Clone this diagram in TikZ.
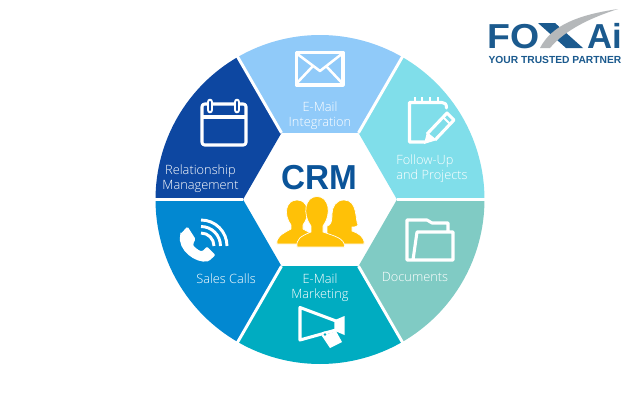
\documentclass[tikz,border=0pt]{standalone}
\usepackage{fontspec}
\setmainfont{Open Sans Light}
\newfontfamily\logofont{Liberation Sans}
\definecolor{cTop}{HTML}{90CAF9}
\definecolor{cUR}{HTML}{80DEEA}
\definecolor{cLR}{HTML}{80CBC4}
\definecolor{cBot}{HTML}{00ACC1}
\definecolor{cLL}{HTML}{0288D1}
\definecolor{cUL}{HTML}{0D47A1}
\definecolor{cCRM}{HTML}{0B5499}
\definecolor{cAmber}{HTML}{FFC107}
\definecolor{cLogo}{HTML}{1B5A8E}
\definecolor{cSwoosh}{HTML}{B5B8BA}
\newcommand{\sector}[2]{\fill[#2] (#1:77) -- (#1:164.5) arc[start angle=#1,delta angle=60,radius=164.5] -- (#1+60:77) -- cycle;}
\tikzset{
  lbl/.style={text=white,font=\fontsize{9.6pt}{11.3pt}\selectfont,align=center,inner sep=0pt},
  ico/.style={draw=white,line width=2.3pt,line join=round},
  gap/.style={draw=white,line width=2.2pt},
  person/.style={fill=cAmber,draw=white,line width=.5pt},
}
\begin{document}
\begin{tikzpicture}[x=.75pt,y=-.75pt]
\useasboundingbox (0,0) rectangle (640,400);
\fill[white] (0,0) rectangle (640,400);
\begin{scope}[shift={(320,199.5)}]
\sector{240}{cTop}
\sector{300}{cUR}
\sector{0}{cLR}
\sector{60}{cBot}
\sector{120}{cLL}
\sector{180}{cUL}
\foreach \a in {0,60,...,300}{\draw[gap] (\a:77) -- (\a:168);}
\end{scope}
% envelope
\draw[ico] (296.5,52.5) rectangle (343,85);
\draw[ico,line width=1.9pt] (296,53) -- (320,71) -- (343,53);
\draw[ico,line width=1.9pt] (296,84) -- (313,66);
\draw[ico,line width=1.9pt] (343,84) -- (326,66);
% calendar
\draw[ico,rounded corners=2pt] (202,104) rectangle (246,145);
\draw[ico] (202,117) -- (246,117);
\foreach \x in {210,237}{
  \draw[white,line width=5pt,line cap=round] (\x,102) -- (\x,110);
  \draw[cUL,line width=1.6pt,line cap=round] (\x,102) -- (\x,110);
}
% notepad
\draw[ico,line cap=round] (446.5,108) .. controls (446.5,104) and (445,102.5) .. (442,102.5) -- (409.5,102.5) -- (409.5,142) -- (425,142);
\foreach \x in {415,422,430,438}{\draw[white,line width=2pt] (\x,97) -- (\x,103);}
\fill[white] (424,144) -- (427,132) -- (437,140) -- cycle;
\draw[ico] (427,134) -- (447,113) -- (454,120) -- (435,140);
\draw[white,line width=1.5pt] (443,117) -- (450,124);
% folder
\draw[ico] (448,231) -- (448,223) -- (432,223) -- (427,220) -- (407,220) -- (407,260) -- (453,260) -- (453,232) -- (417,232) -- (413,260);
% megaphone
\draw[ico] (300,307.5) -- (336,321) -- (336,330) -- (300,340) -- cycle;
\fill[white] (335,320) -- (344.5,316) -- (344.5,335) -- (335,331) -- cycle;
\fill[white] (322,336) -- (336,331) -- (342,342) -- (330,348) -- cycle;
\fill[white] (325,334.5) circle (3.2);
\fill[cBot] (325,334.5) circle (1.3);
% phone
\fill[white,rounded corners=1pt] (180.5,234) -- (187.5,226.5) -- (195.5,239) -- (193,244)
  .. controls (194,247) and (198,250) .. (202,251.5) -- (207,246.5) -- (215.5,255) -- (209,261)
  .. controls (196,264) and (177,250) .. (180.5,234) -- cycle;
\foreach \r in {26,19.5,13}{\draw[white,line width=2.2pt] (201,246) ++(270:\r) arc[start angle=270,end angle=360,radius=\r];}
% labels
\node[lbl] (ltop) at (320,115.5) {E-Mail\\Integration};
\node[lbl,align=left] (lur) at (432,169) {Follow-Up\\and Projects};
\node[lbl] (llr) at (415,277) {Documents};
\node[lbl] (lbot) at (320,288) {E-Mail\\Marketing};
\node[lbl] (lll) at (226,279) {Sales Calls};
\node[lbl] (lul) at (200.5,179) {Relationship\\Management};
% CRM
\node[text=cCRM,font=\logofont\fontsize{26pt}{28pt}\selectfont\bfseries,inner sep=0pt,xscale=.96] (crm) at (319,177.5) {CRM};
% people
\path[person] (344,200) .. controls (336,200) and (332,207) .. (332,214) .. controls (332,222) and (331,225) .. (327,226) -- (327,244) -- (364,244) .. controls (365,237) and (358,233) .. (352,231) -- (352,227) .. controls (356,227) and (358,226) .. (358,225) .. controls (355,220) and (358,200) .. (344,200) -- cycle;
\path[person] (277,244) .. controls (276,237) and (282,234) .. (291,229) -- (291,225) .. controls (283,214) and (286,200) .. (297,200) .. controls (308,200) and (311,214) .. (303,225) -- (303,229) -- (312,234) -- (312,244) -- cycle;
\path[person] (297,247) .. controls (296,239) and (301,236) .. (311,232) -- (311,226) .. controls (302,214) and (305,196.5) .. (317,196.5) .. controls (329,196.5) and (332,214) .. (323,226) -- (323,232) .. controls (334,236) and (345,238) .. (344.5,247) -- cycle;
% logo
\node[text=cLogo,font=\logofont\fontsize{26pt}{26pt}\selectfont\bfseries,inner sep=0pt,anchor=base west,xscale=1.08] (fo) at (487,48) {FO};
\node[text=cLogo,font=\logofont\fontsize{26pt}{26pt}\selectfont\bfseries,inner sep=0pt,anchor=base west] (ai) at (587,48) {Ai};
\fill[cLogo] (538,23) -- (555,23) -- (583,48) -- (566,48) -- cycle;
\fill[cSwoosh] (618,9) .. controls (578,15) and (552,25) .. (540,48) -- (550,48) .. controls (565,30) and (590,18) .. (618,9) -- cycle;
\node[text=cLogo,font=\logofont\fontsize{7.7pt}{9pt}\selectfont\bfseries,inner sep=0pt] (tag) at (555,60) {YOUR TRUSTED PARTNER};
\end{tikzpicture}
\end{document}
